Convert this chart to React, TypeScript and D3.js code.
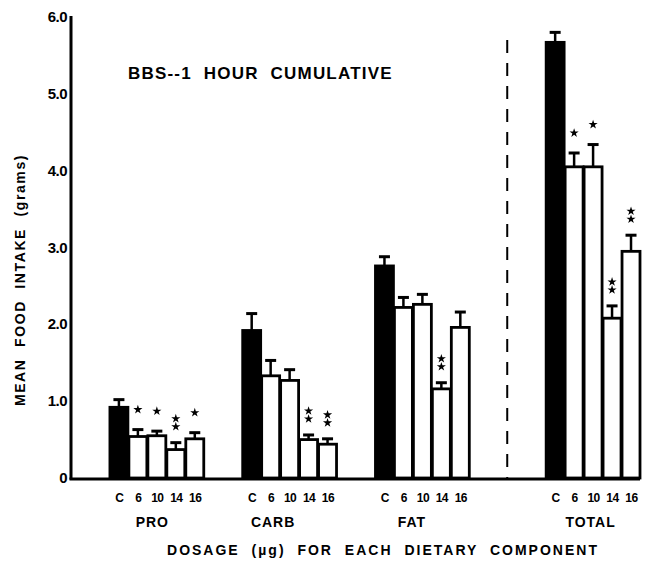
import * as d3 from "d3";
import { useEffect, useRef } from "react";

const groups = ["PRO", "CARB", "FAT", "TOTAL"];
const doses = ["C", "6", "10", "14", "16"];

const proMeans = [0.92, 0.54, 0.55, 0.37, 0.51];
const proErr = [0.1, 0.09, 0.06, 0.09, 0.08];
const proSig = ["", "*", "*", "**", "*"];

const carbMeans = [1.92, 1.33, 1.27, 0.5, 0.44];
const carbErr = [0.22, 0.2, 0.14, 0.06, 0.07];
const carbSig = ["", "", "", "**", "**"];

const fatMeans = [2.76, 2.22, 2.26, 1.16, 1.96];
const fatErr = [0.12, 0.13, 0.13, 0.08, 0.2];
const fatSig = ["", "", "", "**", ""];

const totalMeans = [5.67, 4.05, 4.05, 2.08, 2.95];
const totalErr = [0.13, 0.18, 0.29, 0.16, 0.21];
const totalSig = ["", "*", "*", "**", "**"];

const yTicks = [0, 1, 2, 3, 4, 5, 6];

const FONT = "'Liberation Sans', Arial, sans-serif";

function App() {
    const ref = useRef<SVGSVGElement>(null);

    useEffect(() => {
        const svg = d3.select(ref.current);
        svg.selectAll("*").remove();

        const means = [proMeans, carbMeans, fatMeans, totalMeans];
        const errs = [proErr, carbErr, fatErr, totalErr];
        const sigs = [proSig, carbSig, fatSig, totalSig];

        // bar slots: each bar is one unit wide, groups start at these slots
        const groupStart = [2, 9, 16, 25];
        const labelShift = [-4, -16, -10, -2];
        const dividerSlot = 23;

        const x = d3.scaleLinear().domain([0, 30]).range([71, 640]);
        const y = d3.scaleLinear().domain([0, 6]).range([478, 17]);
        const bw = x(1) - x(0);

        const data = groups.flatMap((g, gi) =>
            doses.map((dose, i) => ({
                group: g,
                gi,
                i,
                dose,
                value: means[gi][i],
                err: errs[gi][i],
                sig: sigs[gi][i]
            }))
        );

        const barX = d => x(groupStart[d.gi] + d.i);

        // bars
        svg.append("g")
            .selectAll("rect")
            .data(data)
            .enter()
            .append("rect")
            .attr("x", d => barX(d) + 1)
            .attr("y", d => y(d.value))
            .attr("width", bw - 1)
            .attr("height", d => y(0) - y(d.value))
            .attr("fill", d => d.i === 0 ? "#000" : "#fff")
            .attr("stroke", "#000")
            .attr("stroke-width", 2.8);

        // error bars
        const eb = svg.append("g").attr("stroke", "#000");
        eb.selectAll("line.stem")
            .data(data)
            .enter()
            .append("line")
            .attr("class", "stem")
            .attr("x1", d => barX(d) + bw / 2 + 0.5)
            .attr("x2", d => barX(d) + bw / 2 + 0.5)
            .attr("y1", d => y(d.value))
            .attr("y2", d => y(d.value + d.err))
            .attr("stroke-width", 2.5);
        eb.selectAll("line.cap")
            .data(data)
            .enter()
            .append("line")
            .attr("class", "cap")
            .attr("x1", d => barX(d) + bw / 2 - 5)
            .attr("x2", d => barX(d) + bw / 2 + 6)
            .attr("y1", d => y(d.value + d.err))
            .attr("y2", d => y(d.value + d.err))
            .attr("stroke-width", 3);

        // significance stars, stacked vertically
        const star = d3.symbol().type(d3.symbolStar).size(26);
        const starPts = data.filter(d => d.sig).flatMap(d => {
            const cx = barX(d) + bw / 2 + 0.5;
            const top = y(d.value + d.err);
            const n = d.sig.length;
            return d3.range(n).map(k => ({
                cx,
                cy: n === 1 ? top - 20 : top - 16 - k * 8
            }));
        });
        svg.append("g")
            .selectAll("path")
            .data(starPts)
            .enter()
            .append("path")
            .attr("d", star)
            .attr("transform", p => `translate(${p.cx},${p.cy})`)
            .attr("fill", "#000");

        // axes
        svg.append("line")
            .attr("x1", x(0))
            .attr("x2", x(0))
            .attr("y1", y(6) - 1)
            .attr("y2", y(0) + 1.5)
            .attr("stroke", "#000")
            .attr("stroke-width", 3);
        svg.append("line")
            .attr("x1", x(0) - 1.5)
            .attr("x2", x(30))
            .attr("y1", y(0) + 1)
            .attr("y2", y(0) + 1)
            .attr("stroke", "#000")
            .attr("stroke-width", 3);

        // divider
        svg.append("line")
            .attr("x1", x(dividerSlot))
            .attr("x2", x(dividerSlot))
            .attr("y1", 40)
            .attr("y2", y(0))
            .attr("stroke", "#000")
            .attr("stroke-width", 2)
            .attr("stroke-dasharray", "13,10");

        const txt = svg.append("g")
            .attr("font-family", FONT)
            .attr("font-weight", "bold")
            .attr("fill", "#000");

        // y ticks
        txt.selectAll("text.ytick")
            .data(yTicks)
            .enter()
            .append("text")
            .attr("class", "ytick")
            .attr("x", 67)
            .attr("y", d => y(d) + 5)
            .attr("text-anchor", "end")
            .attr("font-size", 15)
            .attr("letter-spacing", -0.5)
            .text(d => d === 0 ? "0" : d.toFixed(1));

        // dose labels
        txt.selectAll("text.dose")
            .data(data)
            .enter()
            .append("text")
            .attr("class", "dose")
            .attr("x", d => barX(d) + bw / 2 + 1)
            .attr("y", 502)
            .attr("text-anchor", "middle")
            .attr("font-size", 12)
            .attr("letter-spacing", -0.5)
            .text(d => d.dose);

        // group labels
        txt.selectAll("text.group")
            .data(groups)
            .enter()
            .append("text")
            .attr("class", "group")
            .attr("x", (g, gi) => x(groupStart[gi] + 2.5) + labelShift[gi])
            .attr("y", 527)
            .attr("text-anchor", "middle")
            .attr("font-size", 14)
            .attr("letter-spacing", 1)
            .text(g => g);

        // x title
        txt.append("text")
            .attr("x", 383)
            .attr("y", 555)
            .attr("text-anchor", "middle")
            .attr("font-size", 14)
            .attr("letter-spacing", 2)
            .attr("word-spacing", 6)
            .text("DOSAGE (\u00b5g) FOR EACH DIETARY COMPONENT");

        // y title
        txt.append("text")
            .attr("transform", "translate(25,280) rotate(-90)")
            .attr("text-anchor", "middle")
            .attr("font-size", 14)
            .attr("letter-spacing", 1.6)
            .attr("word-spacing", 6)
            .text("MEAN FOOD INTAKE (grams)");

        // chart title
        txt.append("text")
            .attr("x", 128)
            .attr("y", 79)
            .attr("font-size", 17)
            .attr("letter-spacing", 1.2)
            .attr("word-spacing", 6)
            .text("BBS--1 HOUR CUMULATIVE");
    }, []);

    return (
        <svg
            ref={ref}
            width={645}
            height={568}
            style={{ position: "absolute", left: 0, top: 0, background: "#fff" }}
        />
    );
}

export default App;
